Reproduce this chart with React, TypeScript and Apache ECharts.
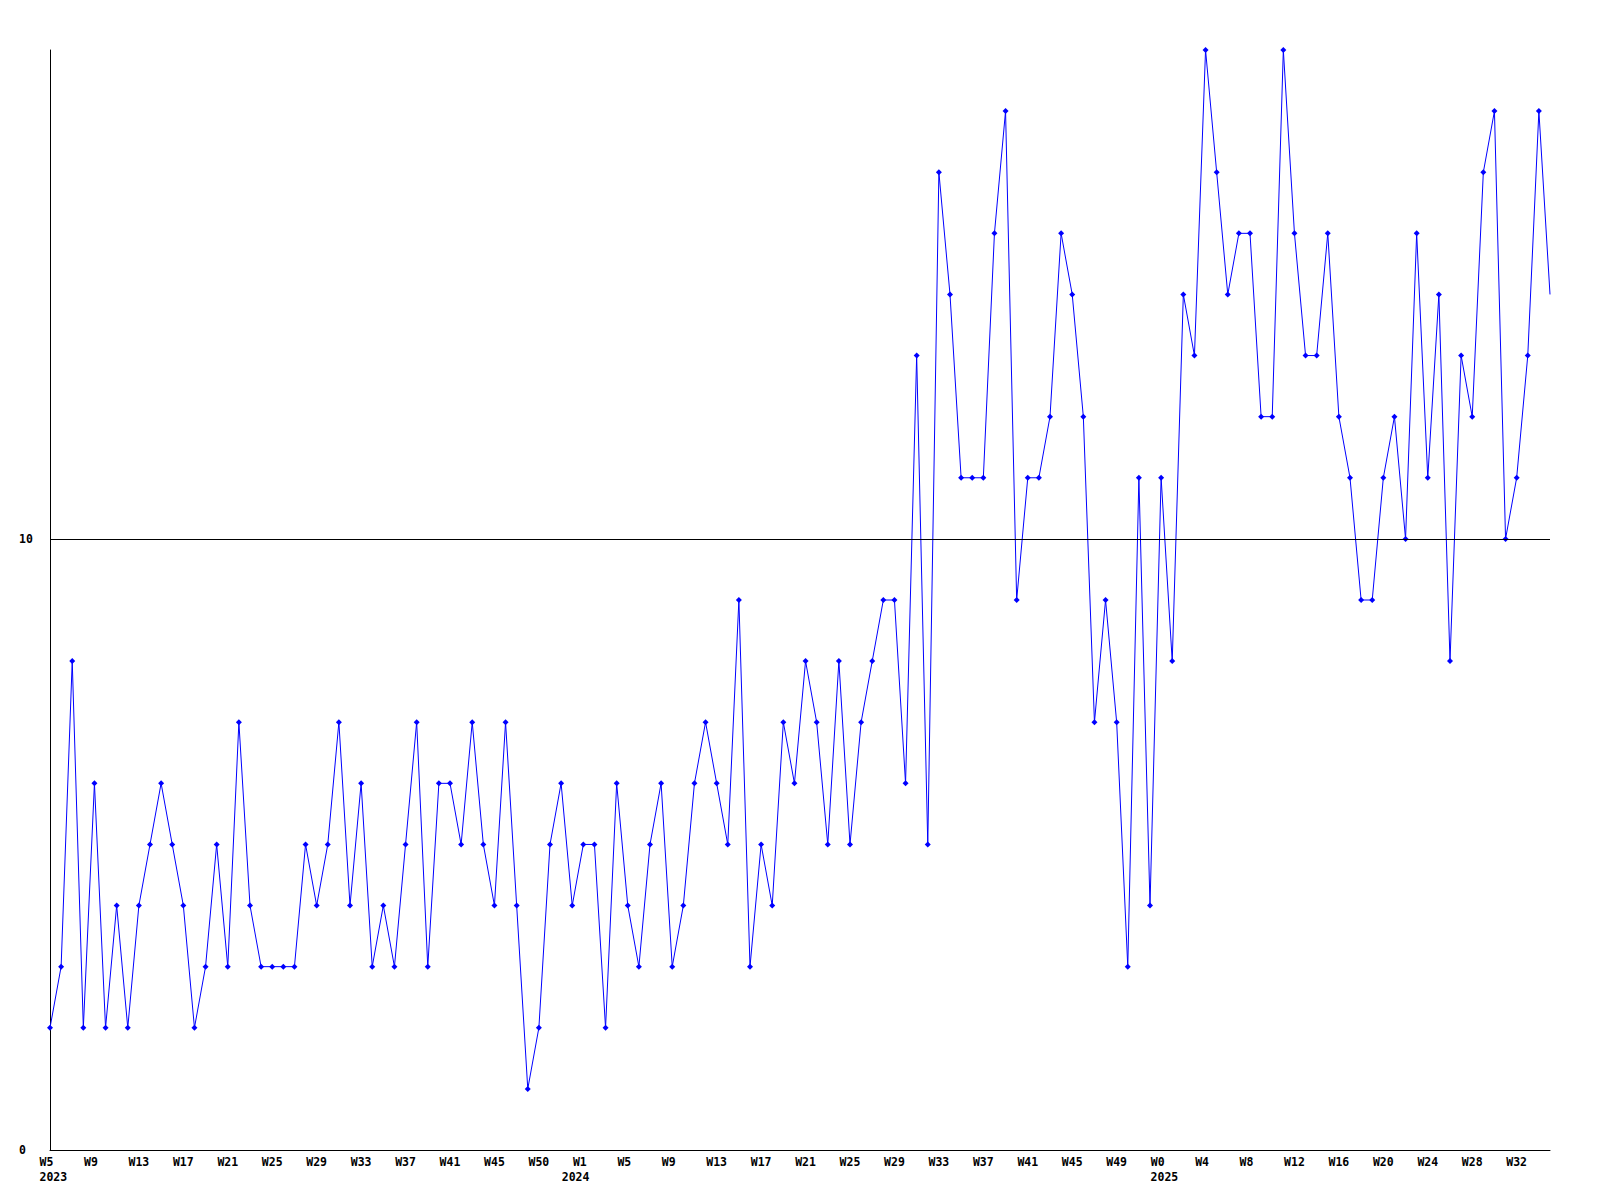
import React, { useEffect, useRef } from "react";
import * as echarts from "echarts";

// Weekly counts, 2023 W5 .. 2025 W32 (136 weeks)
const counts: number[] = [
  2, 3, 8, 2, 6, 2, 4, 2, 4, 5, 6, 5, 4, 2, 3, 5, 3, 7, 4, 3,
  3, 3, 3, 5, 4, 5, 7, 4, 6, 3, 4, 3, 5, 7, 3, 6, 6, 5, 7,
  5, 4, 7, 4, 1, 2, 5, 6, 4, 5, 5, 2, 6, 4, 3, 5, 6, 3, 4, 6,
  7, 6, 5, 9, 3, 5, 4, 7, 6, 8, 7, 5, 8, 5, 7, 8, 9, 9, 6,
  13, 5, 16, 14, 11, 11, 11, 15, 17, 9, 11, 11, 12, 15, 14, 12, 7, 9, 7, 3,
  11, 4, 11, 8, 14, 13,
  18, 16, 14, 15, 15, 12, 12, 18, 15, 13, 13, 15, 12, 11, 9, 9, 11, 12, 10, 15,
  11, 14, 8, 13, 12, 16, 17, 10, 11, 13, 17, 14,
];

// Week tick labels, one every 4 data points
const weekLabels: string[] = [
  "W5", "W9", "W13", "W17", "W21", "W25", "W29", "W33", "W37", "W41", "W45", "W50",
  "W1", "W5", "W9", "W13", "W17", "W21", "W25", "W29", "W33", "W37", "W41", "W45", "W49",
  "W0", "W4", "W8", "W12", "W16", "W20", "W24", "W28", "W32",
];
const weekLabelStep = 4;

const yearLabels: string[] = ["2023", "2024", "2025"];
const yearLabelAt: number[] = [0.3, 47.3, 100.3];

const yTickLabels: number[] = [0, 10];
const yMax = 18;
const refLine = 10;

const FONT = "DejaVu Sans Mono";

export default function App() {
  const ref = useRef<HTMLDivElement>(null);

  useEffect(() => {
    if (!ref.current) return;
    const chart = echarts.init(ref.current, undefined, { renderer: "svg" });
    const lastIdx = counts.length - 1;
    const weekTicks = weekLabels.map((_, k) => k * weekLabelStep);

    chart.setOption({
      animation: false,
      backgroundColor: "#ffffff",
      grid: {
        left: 50,
        right: 50,
        top: 50,
        bottom: 50,
        containLabel: false,
        outerBoundsMode: "none",
      },
      xAxis: [
        {
          type: "value",
          min: 0,
          max: lastIdx,
          position: "bottom",
          axisLine: { show: true, onZero: false, lineStyle: { color: "#000", width: 1 } },
          axisTick: { show: false },
          splitLine: { show: false },
          axisLabel: {
            customValues: weekTicks,
            margin: 6,
            fontFamily: FONT,
            fontWeight: "bold",
            fontSize: 11.5,
            color: "#000",
            formatter: (v: number) => {
              const s = weekLabels[Math.round(v / weekLabelStep)] ?? "";
              return s.length < 3 ? s + "\u00a0" : s;
            },
          },
        },
        {
          type: "value",
          min: 0,
          max: lastIdx,
          position: "bottom",
          axisLine: { show: false },
          axisTick: { show: false },
          splitLine: { show: false },
          axisLabel: {
            customValues: yearLabelAt,
            margin: 21,
            fontFamily: FONT,
            fontWeight: "bold",
            fontSize: 11.5,
            color: "#000",
            formatter: (v: number) => {
              let best = 0;
              yearLabelAt.forEach((p, i) => {
                if (Math.abs(p - v) < Math.abs(yearLabelAt[best] - v)) best = i;
              });
              return yearLabels[best];
            },
          },
        },
      ],
      yAxis: {
        type: "value",
        min: 0,
        max: yMax,
        axisLine: { show: true, lineStyle: { color: "#000", width: 1 } },
        axisTick: { show: false },
        splitLine: { show: false },
        axisLabel: {
          customValues: yTickLabels,
          align: "left",
          margin: 31,
          fontFamily: FONT,
          fontWeight: "bold",
          fontSize: 11.5,
          color: "#000",
        },
      },
      series: [
        {
          type: "line",
          xAxisIndex: 0,
          data: counts.map((v, i) =>
            i === lastIdx ? { value: [i, v], symbol: "none" } : [i, v]
          ),
          symbol: "diamond",
          symbolSize: 6,
          showSymbol: true,
          lineStyle: { color: "#0000ff", width: 1 },
          itemStyle: { color: "#0000ff" },
          markLine: {
            silent: true,
            symbol: ["none", "none"],
            label: { show: false },
            lineStyle: { color: "#000", width: 1, type: "solid" },
            data: [{ yAxis: refLine }],
          },
          z: 3,
        },
      ],
    });
    return () => chart.dispose();
  }, []);

  return (
    <div
      ref={ref}
      style={{ position: "fixed", left: 0, top: 0, width: 1600, height: 1200, background: "#fff" }}
    />
  );
}
